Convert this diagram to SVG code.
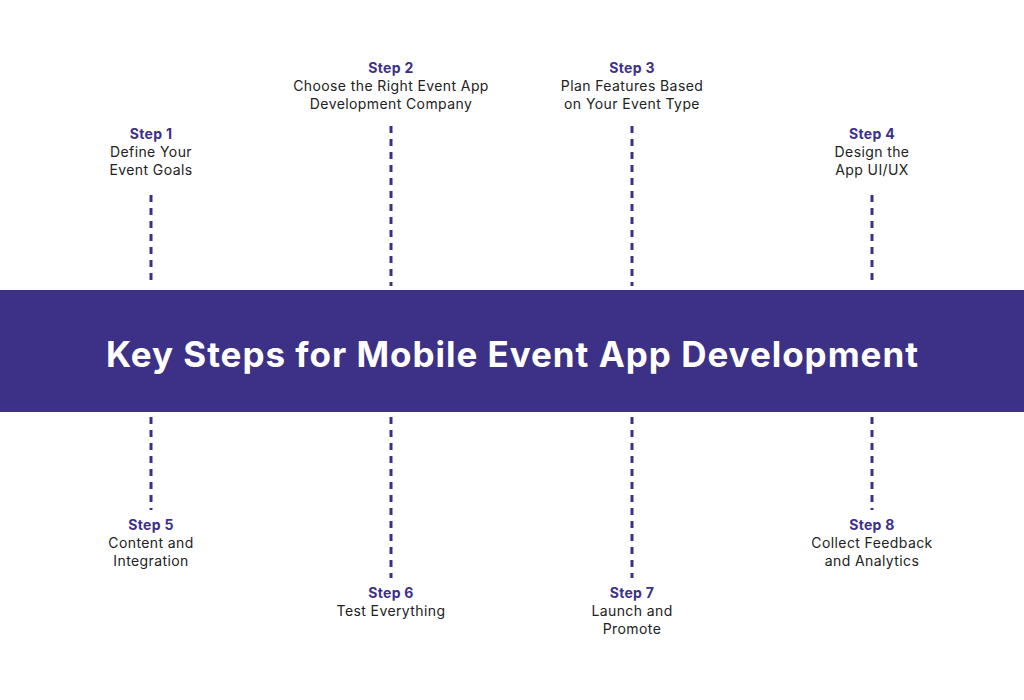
<svg xmlns="http://www.w3.org/2000/svg" width="1024" height="700" viewBox="0 0 1024 700">
<style>
.s{font-family:Inter,"Open Sans",sans-serif;font-weight:700;font-size:14px;fill:#3d3087;text-anchor:middle;letter-spacing:0.3px}
.t{font-family:Inter,"Open Sans",sans-serif;font-size:14px;fill:#222;text-anchor:middle;letter-spacing:0.4px}
.d{stroke:#3d3087;stroke-width:3;stroke-dasharray:7 6;fill:none}
</style>
<rect width="1024" height="700" fill="#fff"/>
<g id="connectors">
<line class="d" x1="151" y1="195" x2="151" y2="286"/>
<line class="d" x1="391" y1="126" x2="391" y2="286"/>
<line class="d" x1="632" y1="126" x2="632" y2="286"/>
<line class="d" x1="872" y1="195" x2="872" y2="286"/>
<line class="d" x1="151" y1="417" x2="151" y2="510"/>
<line class="d" x1="391" y1="417" x2="391" y2="578"/>
<line class="d" x1="632" y1="417" x2="632" y2="578"/>
<line class="d" x1="872" y1="417" x2="872" y2="510"/>
</g>
<g id="banner">
<rect x="0" y="290" width="1024" height="122" fill="#3d3087"/>
<text x="512" y="367" font-family="Inter,'Open Sans',sans-serif" font-weight="700" font-size="35" fill="#fff" text-anchor="middle" textLength="812" lengthAdjust="spacing">Key Steps for Mobile Event App Development</text>
</g>
<g id="step1"><text class="s" x="151" y="139">Step 1</text><text class="t" x="151" y="157">Define Your</text><text class="t" x="151" y="175">Event Goals</text></g>
<g id="step2"><text class="s" x="391" y="73">Step 2</text><text class="t" x="391" y="91">Choose the Right Event App</text><text class="t" x="391" y="109">Development Company</text></g>
<g id="step3"><text class="s" x="632" y="73">Step 3</text><text class="t" x="632" y="91">Plan Features Based</text><text class="t" x="632" y="109">on Your Event Type</text></g>
<g id="step4"><text class="s" x="872" y="139">Step 4</text><text class="t" x="872" y="157">Design the</text><text class="t" x="872" y="175">App UI/UX</text></g>
<g id="step5"><text class="s" x="151" y="530">Step 5</text><text class="t" x="151" y="548">Content and</text><text class="t" x="151" y="566">Integration</text></g>
<g id="step6"><text class="s" x="391" y="598">Step 6</text><text class="t" x="391" y="616">Test Everything</text></g>
<g id="step7"><text class="s" x="632" y="598">Step 7</text><text class="t" x="632" y="616">Launch and</text><text class="t" x="632" y="634">Promote</text></g>
<g id="step8"><text class="s" x="872" y="530">Step 8</text><text class="t" x="872" y="548">Collect Feedback</text><text class="t" x="872" y="566">and Analytics</text></g>
</svg>
